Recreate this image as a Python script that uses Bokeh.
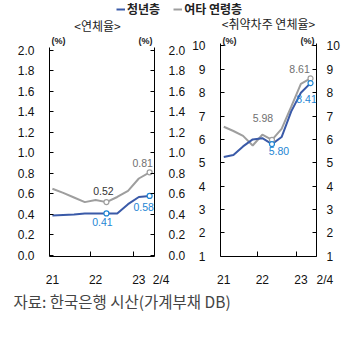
from bokeh.plotting import figure
from bokeh.layouts import column, row
from bokeh.models import Range1d, LinearAxis, FixedTicker, Label, Legend, LegendItem, PrintfTickFormatter
from bokeh.embed import file_html
from bokeh.resources import INLINE

NUM_FONT = "Liberation Sans"
KR_FONT = "Noto Sans CJK KR"
BLUE = "#3A5AA8"
BLUE_TXT = "#1E86D4"
GRAY = "#9E9E9E"
GRAY_TXT = "#707070"
DARK_TXT = "#333333"

# ---- data ----
quarters = ["21.1Q", "21.2Q", "21.3Q", "21.4Q", "22.1Q", "22.2Q", "22.3Q", "22.4Q", "23.1Q", "23.2Q"]
youth_rate = [0.39, 0.395, 0.40, 0.41, 0.41, 0.41, 0.41, 0.50, 0.57, 0.58]
other_rate = [0.65, 0.61, 0.565, 0.52, 0.54, 0.52, 0.57, 0.63, 0.75, 0.81]
youth_vuln = [5.25, 5.33, 5.70, 6.00, 6.05, 5.80, 6.10, 7.20, 8.00, 8.41]
other_vuln = [6.54, 6.36, 6.15, 5.74, 6.20, 5.98, 6.45, 7.40, 8.38, 8.61]

year_ticks = [0, 4, 8]
year_labels = ["21", "22", "23"]
last_label = "2/4"
year_breaks = [3.5, 7.5]
rate_ticks = [0.0, 0.2, 0.4, 0.6, 0.8, 1.0, 1.2, 1.4, 1.6, 1.8, 2.0]
vuln_ticks = [1, 2, 3, 4, 5, 6, 7, 8, 9, 10]
series_names = ["청년층", "여타 연령층"]
panel_titles = ["<연체율>", "<취약차주 연체율>"]
unit_label = "(%)"
source_text = "자료: 한국은행 시산(가계부채 DB)"

xs = list(range(len(quarters)))
marked = [5, 9]

TOP_H = 34
PANEL_H = 255
BOTTOM_H = 343 - TOP_H - PANEL_H


def style_y(ax, ticks, fmt, standoff, bounds):
    ax.ticker = FixedTicker(ticks=ticks)
    ax.formatter = PrintfTickFormatter(format=fmt)
    ax.bounds = bounds
    ax.axis_line_color = "black"
    ax.axis_line_width = 1
    ax.major_tick_line_color = "black"
    ax.major_tick_in = 4
    ax.major_tick_out = 0
    ax.minor_tick_line_color = None
    ax.major_label_text_font = NUM_FONT
    ax.major_label_text_font_size = "12px"
    ax.major_label_text_color = "#111111"
    ax.major_label_standoff = standoff


def make_panel(width, bl, br, xr, yr, top_val, unit_dy, ticks, fmt, youth, other, labels,
               stand_l, stand_r, pad_last):
    p = figure(width=width, height=PANEL_H, x_range=Range1d(*xr), y_range=Range1d(*yr),
               output_backend="svg", toolbar_location=None,
               min_border_left=bl, min_border_right=br, min_border_top=0, min_border_bottom=28,
               outline_line_color=None, background_fill_color=None, border_fill_color=None)
    p.grid.visible = False

    p.line(xs, other, line_color=GRAY, line_width=2)
    p.line(xs, youth, line_color=BLUE, line_width=2)
    p.scatter([xs[i] for i in marked], [other[i] for i in marked], marker="circle", size=5,
              fill_color="white", line_color=GRAY, line_width=1.2)
    p.scatter([xs[i] for i in marked], [youth[i] for i in marked], marker="circle", size=5,
              fill_color="white", line_color=BLUE_TXT, line_width=1.2)

    for series, i, color, dx, dy in labels:
        p.add_layout(Label(x=xs[i], y=series[i], text=f"{series[i]:.2f}", x_offset=dx, y_offset=dy,
                           text_align="center", text_baseline="middle", text_font=NUM_FONT,
                           text_font_size="10.5px", text_color=color))

    # y axes (lines stop just above the top tick)
    style_y(p.yaxis[0], ticks, fmt, stand_l, (yr[0], top_val))
    rax = LinearAxis()
    p.add_layout(rax, "right")
    style_y(rax, ticks, fmt, stand_r, (yr[0], top_val))

    # unit labels
    p.add_layout(Label(x=xr[0], y=top_val, text=unit_label, x_offset=2, y_offset=unit_dy,
                       text_align="left", text_baseline="middle", text_font=NUM_FONT,
                       text_font_size="9px", text_font_style="bold", text_color="#222222"))
    p.add_layout(Label(x=xr[1], y=top_val, text=unit_label, x_offset=-2, y_offset=unit_dy,
                       text_align="right", text_baseline="middle", text_font=NUM_FONT,
                       text_font_size="9px", text_font_style="bold", text_color="#222222"))

    # x axis: year-boundary ticks
    xa = p.xaxis[0]
    xa.ticker = FixedTicker(ticks=year_breaks)
    xa.major_label_overrides = {b: "" for b in year_breaks}
    xa.major_label_text_font_size = "1px"
    xa.major_label_standoff = 0
    xa.axis_line_color = "black"
    xa.major_tick_line_color = "black"
    xa.major_tick_in = 5
    xa.major_tick_out = 0
    xa.minor_tick_line_color = None
    # year labels (last one marks the latest quarter at the axis end)
    overrides = {t: l for t, l in zip(year_ticks, year_labels)}
    overrides[xr[1]] = "\u00a0" * pad_last + last_label
    la = LinearAxis(ticker=FixedTicker(ticks=year_ticks + [xr[1]]), major_label_overrides=overrides)
    la.axis_line_color = None
    la.major_tick_line_color = None
    la.minor_tick_line_color = None
    la.major_label_text_font = NUM_FONT
    la.major_label_text_font_size = "12px"
    la.major_label_text_color = "#111111"
    la.major_label_standoff = 10
    p.add_layout(la, "below")
    return p


left = make_panel(188, 49, 31, (-0.27, 9.45), (-0.0095, 2.152), 2.03, 6, rate_ticks, "%.1f",
                  youth_rate, other_rate,
                  [(other_rate, 9, GRAY_TXT, -7, 9), (other_rate, 5, DARK_TXT, -3, 11),
                   (youth_rate, 5, BLUE_TXT, -4, -9), (youth_rate, 9, BLUE_TXT, -6, -11)],
                  15, 14, 4)
right = make_panel(165, 32, 37, (-0.34, 9.62), (0.9874, 10.49), 10.11, 2, vuln_ticks, "%d",
                   youth_vuln, other_vuln,
                   [(other_vuln, 9, GRAY_TXT, -11, 9), (other_vuln, 5, GRAY_TXT, -9, 22),
                    (youth_vuln, 9, BLUE_TXT, -4, -16), (youth_vuln, 5, BLUE_TXT, 7, -7)],
                   15, 10, 5)

# legend + panel titles strip (y axis runs downward in pixels)
top = figure(width=353, height=TOP_H, x_range=Range1d(0, 353), y_range=Range1d(TOP_H, 0),
             output_backend="svg", toolbar_location=None, x_axis_type=None, y_axis_type=None,
             min_border=0, outline_line_color=None, border_fill_color=None, background_fill_color=None)
top.grid.visible = False
r1 = top.line([-10, -9], [-10, -9], line_color=BLUE, line_width=2)
r2 = top.line([-10, -9], [-10, -9], line_color=GRAY, line_width=2)
leg = Legend(items=[LegendItem(label=series_names[0], renderers=[r1]),
                    LegendItem(label=series_names[1], renderers=[r2])],
             orientation="horizontal", location=(116, TOP_H - 17), padding=0, margin=0, spacing=13,
             glyph_width=9, glyph_height=14, label_height=14, label_standoff=2,
             label_text_font=KR_FONT, label_text_font_size="12px", label_text_font_style="bold",
             label_text_color="#222222", border_line_color=None, background_fill_alpha=0)
top.add_layout(leg, "center")
for tx, ty, t in [(97, 25, panel_titles[0]), (268, 23, panel_titles[1])]:
    top.add_layout(Label(x=tx, y=ty, text=t, text_align="center", text_baseline="middle",
                         text_font=KR_FONT, text_font_size="12px", text_color="#222222"))

# source strip
bottom = figure(width=353, height=BOTTOM_H, x_range=Range1d(0, 353), y_range=Range1d(BOTTOM_H, 0),
                output_backend="svg", toolbar_location=None, x_axis_type=None, y_axis_type=None,
                min_border=0, outline_line_color=None, border_fill_color=None, background_fill_color=None)
bottom.grid.visible = False
bottom.add_layout(Label(x=13, y=300 - (TOP_H + PANEL_H), text=source_text, text_align="left",
                        text_baseline="middle", text_font=KR_FONT, text_font_size="15.5px",
                        text_color="#444444"))

layout = column(top, row(left, right), bottom)
open("out.html", "w").write(file_html(layout, INLINE))
